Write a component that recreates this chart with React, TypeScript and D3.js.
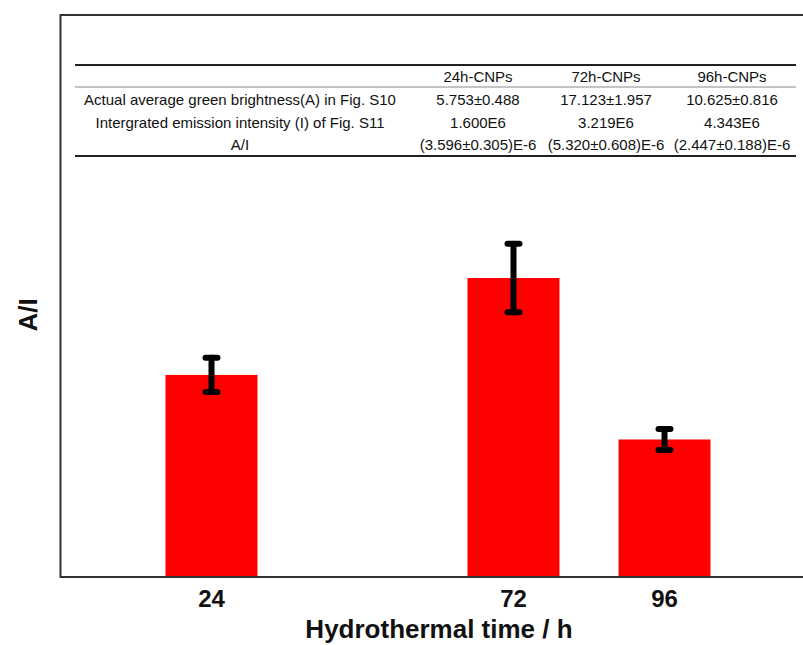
import React from "react";
import * as d3 from "d3";

const hours = [24, 72, 96];
const ratioValues = [3.596, 5.32, 2.447];
const ratioErrors = [0.305, 0.608, 0.188];
const tickLabels = ["24", "72", "96"];

const tableHeader = ["", "24h-CNPs", "72h-CNPs", "96h-CNPs"];
const tableRow1 = ["Actual average green brightness(A) in Fig. S10", "5.753±0.488", "17.123±1.957", "10.625±0.816"];
const tableRow2 = ["Intergrated emission intensity (I) of Fig. S11", "1.600E6", "3.219E6", "4.343E6"];
const tableRow3 = ["A/I", "(3.596±0.305)E-6", "(5.320±0.608)E-6", "(2.447±0.188)E-6"];

const W = 803;
const H = 645;

export default function App() {
  const x = d3.scaleLinear().domain([0, 120]).range([60.5, 815.5]);
  const y = d3.scaleLinear().domain([0, 10]).range([577, 15]);
  const barW = 92;
  const capHalf = 6;
  const font = "Arial, 'Liberation Sans', Helvetica, sans-serif";

  const colX = [240, 478, 606, 732];
  const rowY = [82, 105, 128, 150];
  const rows = [tableHeader, tableRow1, tableRow2, tableRow3];

  return (
    <svg
      width={W}
      height={H}
      viewBox={`0 0 ${W} ${H}`}
      style={{ position: "absolute", left: 0, top: 0, background: "#fff" }}
    >
      <rect x={0} y={0} width={W} height={H} fill="#fff" />
      {hours.map((h, i) => (
        <rect
          key={"b" + h}
          x={x(h) - barW / 2}
          y={y(ratioValues[i])}
          width={barW}
          height={y(0) - y(ratioValues[i])}
          fill="#ff0000"
        />
      ))}
      {hours.map((h, i) => {
        const cx = x(h);
        const yt = y(ratioValues[i] + ratioErrors[i]);
        const yb = y(ratioValues[i] - ratioErrors[i]);
        return (
          <g key={"e" + h} stroke="#000" strokeWidth={6} strokeLinecap="round">
            <line x1={cx} x2={cx} y1={yt} y2={yb} />
            <line x1={cx - capHalf} x2={cx + capHalf} y1={yt} y2={yt} />
            <line x1={cx - capHalf} x2={cx + capHalf} y1={yb} y2={yb} />
          </g>
        );
      })}
      <path
        d={`M${W + 5},${y(10)} L${x(0)},${y(10)} L${x(0)},${y(0)} L${W + 5},${y(0)}`}
        fill="none"
        stroke="#333"
        strokeWidth={2}
      />
      {hours.map((h, i) => (
        <text
          key={"t" + h}
          x={x(h)}
          y={607}
          textAnchor="middle"
          fontFamily={font}
          fontWeight="bold"
          fontSize={24}
          fill="#111"
        >
          {tickLabels[i]}
        </text>
      ))}
      <text
        x={439}
        y={638}
        textAnchor="middle"
        fontFamily={font}
        fontWeight="bold"
        fontSize={26}
        fill="#111"
      >
        Hydrothermal time / h
      </text>
      <text
        transform={`translate(37,315) rotate(-90)`}
        textAnchor="middle"
        fontFamily={font}
        fontWeight="bold"
        fontSize={26}
        fill="#111"
      >
        A/I
      </text>
      <line x1={75} x2={796} y1={65} y2={65} stroke="#222" strokeWidth={2} />
      <line x1={75} x2={796} y1={87} y2={87} stroke="#888" strokeWidth={1} />
      <line x1={75} x2={796} y1={156} y2={156} stroke="#222" strokeWidth={2} />
      {rows.map((row, ri) =>
        row.map((cell, ci) => (
          <text
            key={`c${ri}-${ci}`}
            x={colX[ci]}
            y={rowY[ri]}
            textAnchor="middle"
            fontFamily={font}
            fontSize={15}
            fill="#111"
          >
            {cell}
          </text>
        ))
      )}
    </svg>
  );
}
